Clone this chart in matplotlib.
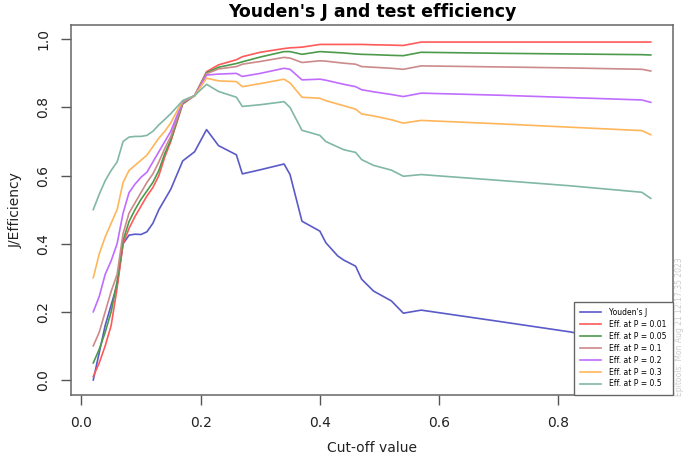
import matplotlib
matplotlib.use('Agg')
import matplotlib.pyplot as plt

# cut-off values (vertices shared by all curves)
cutoff = [0.02, 0.03, 0.04, 0.05, 0.06, 0.07, 0.08, 0.09, 0.10, 0.11, 0.12, 0.13,
          0.14, 0.15, 0.17, 0.19, 0.21, 0.23, 0.26, 0.27, 0.30, 0.34, 0.35, 0.37,
          0.40, 0.41, 0.43, 0.44, 0.46, 0.47, 0.49, 0.52, 0.54, 0.57, 0.70, 0.82,
          0.94, 0.955]

youden_j = [0.00, 0.08, 0.16, 0.22, 0.28, 0.40, 0.425, 0.428, 0.427, 0.435, 0.46, 0.50,
            0.53, 0.56, 0.643, 0.67, 0.735, 0.688, 0.661, 0.605, 0.617, 0.634, 0.603, 0.466,
            0.437, 0.403, 0.364, 0.352, 0.334, 0.296, 0.261, 0.232, 0.196, 0.205, 0.172, 0.141,
            0.10, 0.066]

eff_001 = [0.01, 0.05, 0.10, 0.16, 0.27, 0.40, 0.445, 0.48, 0.51, 0.54, 0.565, 0.60,
           0.655, 0.70, 0.81, 0.835, 0.905, 0.925, 0.94, 0.949, 0.962, 0.973, 0.975, 0.977,
           0.985, 0.985, 0.985, 0.985, 0.985, 0.985, 0.984, 0.983, 0.982, 0.992, 0.992, 0.992,
           0.992, 0.992]

eff_005 = [0.05, 0.09, 0.14, 0.20, 0.29, 0.41, 0.465, 0.50, 0.53, 0.555, 0.58, 0.615,
           0.665, 0.705, 0.812, 0.835, 0.902, 0.918, 0.929, 0.934, 0.948, 0.964, 0.964, 0.956,
           0.964, 0.963, 0.961, 0.960, 0.957, 0.956, 0.955, 0.953, 0.952, 0.962, 0.959, 0.957,
           0.955, 0.954]

eff_01 = [0.10, 0.14, 0.20, 0.26, 0.31, 0.43, 0.49, 0.52, 0.55, 0.58, 0.605, 0.64,
          0.68, 0.715, 0.815, 0.834, 0.899, 0.913, 0.920, 0.927, 0.935, 0.947, 0.945, 0.932,
          0.937, 0.936, 0.932, 0.930, 0.927, 0.920, 0.918, 0.915, 0.912, 0.922, 0.919, 0.916,
          0.912, 0.907]

eff_02 = [0.20, 0.245, 0.31, 0.35, 0.40, 0.49, 0.55, 0.575, 0.595, 0.61, 0.64, 0.67,
          0.70, 0.73, 0.818, 0.834, 0.895, 0.898, 0.900, 0.891, 0.900, 0.915, 0.912, 0.881,
          0.883, 0.880, 0.872, 0.868, 0.861, 0.852, 0.846, 0.838, 0.832, 0.842, 0.836, 0.829,
          0.822, 0.815]

eff_03 = [0.30, 0.37, 0.42, 0.46, 0.50, 0.58, 0.615, 0.63, 0.645, 0.66, 0.685, 0.71,
          0.73, 0.755, 0.82, 0.834, 0.886, 0.878, 0.876, 0.861, 0.870, 0.883, 0.872, 0.830,
          0.827, 0.820, 0.810, 0.805, 0.795, 0.781, 0.775, 0.764, 0.754, 0.762, 0.752, 0.742,
          0.732, 0.720]

eff_05 = [0.50, 0.545, 0.585, 0.615, 0.64, 0.70, 0.713, 0.715, 0.715, 0.718, 0.73, 0.749,
          0.765, 0.782, 0.82, 0.835, 0.868, 0.847, 0.830, 0.803, 0.808, 0.817, 0.800, 0.733,
          0.718, 0.700, 0.684, 0.676, 0.668, 0.647, 0.630, 0.616, 0.598, 0.603, 0.586, 0.570,
          0.551, 0.533]

series = [
    ("Youden's J", youden_j, '#5a5ac8'),
    ('Eff. at P = 0.01', eff_001, '#ff5a5a'),
    ('Eff. at P = 0.05', eff_005, '#4c9a4c'),
    ('Eff. at P = 0.1', eff_01, '#cc8a8a'),
    ('Eff. at P = 0.2', eff_02, '#c06cff'),
    ('Eff. at P = 0.3', eff_03, '#ffb65a'),
    ('Eff. at P = 0.5', eff_05, '#80b8a4'),
]

fig = plt.figure(figsize=(6.85, 4.55), dpi=100)
ax = fig.add_axes([0.1036, 0.132, 0.879, 0.813])

for label, vals, col in series:
    ax.plot(cutoff, vals, color=col, lw=1.2, label=label)

ax.set_xlim(-0.0174, 0.9924)
ax.set_ylim(-0.044, 1.042)
ax.set_xticks([0.0, 0.2, 0.4, 0.6, 0.8])
ax.set_yticks([0.0, 0.2, 0.4, 0.6, 0.8, 1.0])
ax.set_xticklabels(['0.0', '0.2', '0.4', '0.6', '0.8'])
ax.set_yticklabels(['0.0', '0.2', '0.4', '0.6', '0.8', '1.0'], rotation=90, va='center')
ax.tick_params(direction='out', length=7, width=1, color='#555555', labelsize=10,
               labelcolor='#222222', pad=8)
for s in ax.spines.values():
    s.set_color('#666666')
    s.set_linewidth(1.1)

ax.set_title("Youden's J and test efficiency", fontsize=12.5, fontweight='bold', pad=6)
ax.set_xlabel('Cut-off value', fontsize=10, color='#222222', labelpad=8)
ax.set_ylabel('J/Efficiency', fontsize=10, color='#222222', labelpad=10)

leg = ax.legend(loc='lower right', borderaxespad=0, fontsize=5.5, handlelength=2.8,
                handletextpad=1.0, labelspacing=0.38, borderpad=0.85, fancybox=False,
                framealpha=1)
leg.get_frame().set_edgecolor('#666666')
leg.get_frame().set_linewidth(1.0)

fig.text(0.992, 0.13, 'Epitools: Mon Aug 21 12:17:35 2023', rotation=90, fontsize=5.5,
         color='#cccccc', ha='center', va='bottom')

fig.savefig('out.png', dpi=100)
